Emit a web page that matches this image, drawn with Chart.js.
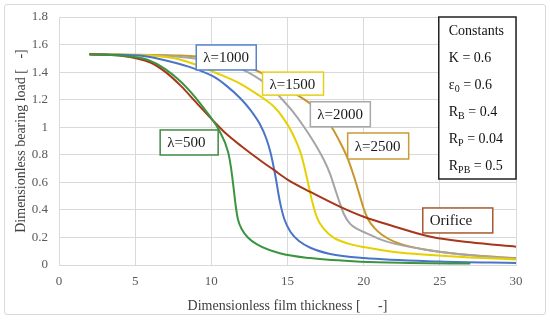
<!DOCTYPE html>
<html lang="en">
<head>
    <meta charset="UTF-8">
    <title>Dimensionless bearing load vs film thickness</title>
    <script src="https://cdn.jsdelivr.net/npm/chart.js"></script>
    <style>
        body { margin: 0; background: #fff; }
        #wrap { position: relative; width: 550px; height: 322px; }
        #frame { position: absolute; left: 4px; top: 4px; width: 542px; height: 311px; border: 1px solid #d9d9d9; border-radius: 3px; box-sizing: border-box; }
        canvas { position: absolute; left: 0; top: 0; }
    </style>
</head>
<body>
    <div id="wrap">
        <div id="frame"></div>
        <canvas id="grafica" width="550" height="322"></canvas>
    </div>

    <script>
        const xTicks = [0, 5, 10, 15, 20, 25, 30];
        const yTicks = [0, 0.2, 0.4, 0.6, 0.8, 1, 1.2, 1.4, 1.6, 1.8];

        const lam500X = [2, 4, 5.8, 7, 8, 9, 9.9, 10.5, 11.1, 11.3, 11.45, 11.6, 11.75, 12, 12.4, 13, 14.5, 16.5, 19.8, 23, 27];
        const lam500Y = [1.53, 1.52, 1.49, 1.42, 1.33, 1.21, 1.08, 0.98, 0.82, 0.7, 0.57, 0.43, 0.33, 0.26, 0.2, 0.15, 0.085, 0.05, 0.024, 0.015, 0.01];

        const orificeX = [2, 4, 6, 7, 8, 9, 10.1, 11, 12, 13.2, 14.1, 15, 16.5, 18.5, 20, 22, 24.4, 27, 30];
        const orificeY = [1.53, 1.52, 1.47, 1.40, 1.30, 1.18, 1.05, 0.95, 0.86, 0.76, 0.69, 0.62, 0.53, 0.42, 0.35, 0.28, 0.205, 0.165, 0.133];

        const lam1000X = [2, 5.3, 6.8, 8.5, 10.1, 11, 11.9, 12.6, 13.2, 13.6, 13.9, 14.2, 14.5, 14.8, 15.2, 15.8, 16.5, 17.8, 20, 25, 30];
        const lam1000Y = [1.53, 1.52, 1.49, 1.44, 1.37, 1.30, 1.21, 1.12, 1.02, 0.92, 0.81, 0.65, 0.46, 0.33, 0.24, 0.17, 0.125, 0.08, 0.05, 0.025, 0.015];

        const lam1500X = [2, 6, 8, 10.4, 12, 13, 14.1, 14.7, 15.3, 15.9, 16.3, 16.6, 16.95, 17.4, 18, 19, 20, 22, 24.4, 27, 30];
        const lam1500Y = [1.53, 1.52, 1.49, 1.39, 1.31, 1.24, 1.15, 1.07, 0.96, 0.8, 0.62, 0.47, 0.34, 0.26, 0.2, 0.155, 0.13, 0.095, 0.073, 0.055, 0.04];

        const lam2000X = [2, 8, 10, 12, 13, 14, 14.5, 15.3, 16.1, 16.8, 17.4, 17.8, 18.1, 18.4, 18.7, 19.1, 19.6, 20.2, 21, 22, 24.4, 27, 30];
        const lam2000Y = [1.53, 1.51, 1.48, 1.42, 1.36, 1.28, 1.22, 1.12, 1.0, 0.88, 0.76, 0.66, 0.56, 0.46, 0.37, 0.3, 0.26, 0.23, 0.19, 0.155, 0.105, 0.07, 0.045];

        const lam2500X = [2, 8, 10, 12, 13, 14, 15.4, 16.5, 17.2, 17.9, 18.5, 19, 19.4, 19.7, 20, 20.3, 20.7, 21.2, 22, 23, 24.4, 27, 30];
        const lam2500Y = [1.53, 1.52, 1.50, 1.45, 1.41, 1.35, 1.25, 1.17, 1.09, 1.0, 0.88, 0.76, 0.63, 0.52, 0.41, 0.33, 0.27, 0.22, 0.17, 0.135, 0.105, 0.072, 0.05];

        const serif = "'Liberation Serif', 'Times New Roman', serif";

        function puntos(xs, ys) {
            return xs.map((x, i) => ({ x: x, y: ys[i] }));
        }

        function serie(label, xs, ys, color) {
            return {
                label: label,
                data: puntos(xs, ys),
                borderColor: color,
                borderWidth: 2,
                pointRadius: 0,
                showLine: true,
                fill: false,
                cubicInterpolationMode: 'monotone'
            };
        }

        // etiquetas: esquina superior izquierda en unidades de datos
        const etiquetas = [
            { text: 'λ=1000', x: 9.01, y: 1.597, w: 60, h: 25, color: '#5683cc' },
            { text: 'λ=1500', x: 13.36, y: 1.40, w: 61, h: 23, color: '#e3cf1a' },
            { text: 'λ=2000', x: 16.5, y: 1.185, w: 60, h: 25, color: '#a8a8a8' },
            { text: 'λ=2500', x: 18.95, y: 0.958, w: 61, h: 26, color: '#c99a35' },
            { text: 'λ=500', x: 6.64, y: 0.98, w: 58, h: 25, color: '#3f8a43' },
            { text: 'Orifice', x: 23.88, y: 0.414, w: 70, h: 25, color: '#a8582e' }
        ];

        const constantes = [
            [['Constants', 0]],
            [['K = 0.6', 0]],
            [['ε', 0], ['0', 1], [' = 0.6', 0]],
            [['R', 0], ['B', 1], [' = 0.4', 0]],
            [['R', 0], ['P', 1], [' = 0.04', 0]],
            [['R', 0], ['PB', 1], [' = 0.5', 0]]
        ];

        const anotaciones = {
            id: 'anotaciones',
            afterDatasetsDraw(chart) {
                const ctx = chart.ctx;
                const sx = chart.scales.x, sy = chart.scales.y;
                ctx.save();
                etiquetas.forEach(e => {
                    const px = sx.getPixelForValue(e.x), py = sy.getPixelForValue(e.y);
                    ctx.fillStyle = '#fff';
                    ctx.fillRect(px, py, e.w, e.h);
                    ctx.strokeStyle = e.color;
                    ctx.lineWidth = 1.5;
                    ctx.strokeRect(px, py, e.w, e.h);
                    ctx.fillStyle = '#1a1a1a';
                    ctx.font = '15px ' + serif;
                    ctx.textBaseline = 'middle';
                    ctx.fillText(e.text, px + 7, py + e.h / 2 + 1);
                });

                // caja de constantes
                const bx = sx.getPixelForValue(24.93), by = sy.getPixelForValue(1.8);
                const bw = sx.right - bx, bh = 162;
                ctx.fillStyle = '#fff';
                ctx.fillRect(bx, by, bw, bh);
                ctx.strokeStyle = '#222';
                ctx.lineWidth = 1.5;
                ctx.strokeRect(bx, by, bw, bh);
                ctx.fillStyle = '#111';
                ctx.textBaseline = 'alphabetic';
                constantes.forEach((linea, i) => {
                    let x = bx + 10;
                    const y = by + 18 + i * 27;
                    linea.forEach(([t, sub]) => {
                        ctx.font = (sub ? '10px ' : '14px ') + serif;
                        ctx.fillText(t, x, y + (sub ? 3 : 0));
                        x += ctx.measureText(t).width;
                    });
                });
                ctx.restore();
            }
        };

        new Chart(document.getElementById('grafica'), {
            type: 'scatter',
            data: {
                datasets: [
                    serie('λ=500', lam500X, lam500Y, '#3b9440'),
                    serie('Orifice', orificeX, orificeY, '#a8371a'),
                    serie('λ=1000', lam1000X, lam1000Y, '#4a74c8'),
                    serie('λ=1500', lam1500X, lam1500Y, '#e6d000'),
                    serie('λ=2000', lam2000X, lam2000Y, '#a5a5a5'),
                    serie('λ=2500', lam2500X, lam2500Y, '#c8972c')
                ]
            },
            options: {
                responsive: false,
                animation: false,
                layout: { padding: { left: 0, right: 34, top: 17, bottom: 7 } },
                plugins: { legend: { display: false }, tooltip: { enabled: false } },
                scales: {
                    x: {
                        type: 'linear', min: 0, max: 30,
                        afterBuildTicks: s => { s.ticks = xTicks.map(v => ({ value: v })); },
                        afterFit: s => { s.height = 50; },
                        grid: { color: '#d9d9d9', tickColor: 'transparent', tickLength: 6 },
                        border: { color: '#d9d9d9' },
                        ticks: { color: '#595959', font: { family: serif, size: 13 }, padding: 3 },
                        title: { display: true, text: 'Dimensionless film thickness [     -]', color: '#404040', font: { family: serif, size: 14 }, padding: { top: 2, bottom: 0 } }
                    },
                    y: {
                        type: 'linear', min: 0, max: 1.8,
                        afterBuildTicks: s => { s.ticks = yTicks.map(v => ({ value: v })); },
                        afterFit: s => { s.width = 59; },
                        grid: { color: '#d9d9d9', tickColor: 'transparent', tickLength: 8 },
                        border: { color: '#d9d9d9' },
                        ticks: { color: '#595959', font: { family: serif, size: 13 }, padding: 3, callback: v => String(+v.toFixed(1)) },
                        title: { display: true, text: 'Dimensionless bearing load [   -]', color: '#404040', font: { family: serif, size: 14 }, padding: { top: 13, bottom: 0 } }
                    }
                }
            },
            plugins: [anotaciones]
        });
    </script>
</body>
</html>
